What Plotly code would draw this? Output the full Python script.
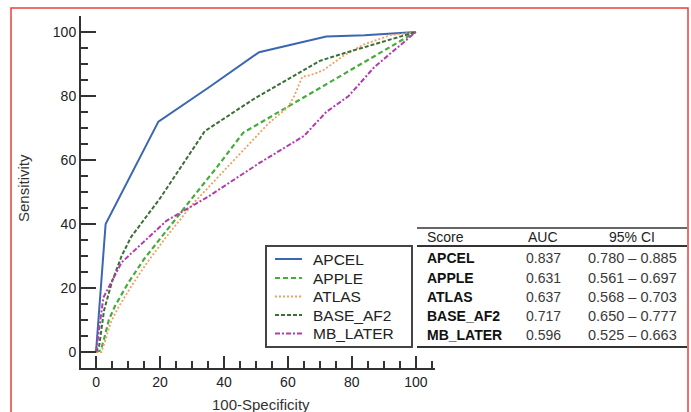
import plotly.graph_objects as go

# ---------------- data ----------------
series_names = ["APCEL", "APPLE", "ATLAS", "BASE_AF2", "MB_LATER"]

apcel_x = [0, 3, 19.5, 35, 51, 72, 84, 100]
apcel_y = [0, 40, 72, 82.5, 93.7, 98.6, 99, 100]

apple_x = [0, 1.5, 2.5, 4, 6, 10, 15, 22, 30, 38, 46, 100]
apple_y = [0, 0.5, 4, 10, 14.5, 21.5, 29, 38, 48, 58, 68.5, 100]

atlas_x = [0, 1.7, 3, 4.5, 7, 11, 16, 22, 30, 40, 48, 54, 60, 62, 64.5, 67, 71, 77, 83.5, 92, 100]
atlas_y = [0, 0, 4, 9, 14, 20.5, 28, 36, 46, 56.5, 65, 71.5, 76.5, 80, 86, 86.5, 88, 92.3, 96, 99, 100]

base_x = [0, 1, 2.5, 5, 8, 11, 20, 34, 50, 70, 78, 100]
base_y = [0, 2, 13, 22, 30, 36, 48, 69, 79.5, 91, 93.5, 100]

mb_x = [0, 1, 2.3, 8, 22, 35, 51, 65, 72, 79, 87, 100]
mb_y = [0, 8, 17, 28, 41, 48.5, 59, 67.5, 75, 80, 89, 100]

table_header = ["Score", "AUC", "95% CI"]
auc_values = ["0.837", "0.631", "0.637", "0.717", "0.596"]
ci_values = ["0.780 \u2013 0.885", "0.561 \u2013 0.697", "0.568 \u2013 0.703",
             "0.650 \u2013 0.777", "0.525 \u2013 0.663"]

x_ticks = [0, 20, 40, 60, 80, 100]
y_ticks = [0, 20, 40, 60, 80, 100]

# ---------------- layout helpers ----------------
W, H = 691, 412
L, R, T, B = 81, 435, 16, 368  # plot area in pixels


def px(x):
    return (x - L) / (R - L)


def py(y):
    return (B - y) / (B - T)


FONT = "Liberation Sans, Arial, Helvetica, sans-serif"
colors = ["#3b67b0", "#45ad3a", "#f0a060", "#3a7034", "#b23cae"]
dashes = ["solid", "5px,3px", "2px,2px", "4px,2px", "5px,2px,2px,2px"]
widths = [2, 2.2, 1.8, 2, 2]
xs = [apcel_x, apple_x, atlas_x, base_x, mb_x]
ys = [apcel_y, apple_y, atlas_y, base_y, mb_y]

fig = go.Figure()
for name, x, y, c, d, w in zip(series_names, xs, ys, colors, dashes, widths):
    fig.add_trace(go.Scatter(x=x, y=y, mode="lines", name=name,
                             line=dict(color=c, dash=d, width=w)))

axis_common = dict(showgrid=False, zeroline=False, showline=True,
                   linecolor="#333333", linewidth=2, ticks="inside",
                   tickcolor="#333333", tickwidth=1.5,
                   tickfont=dict(family=FONT, size=14, color="#222222"),
                   tickmode="array")

fig.update_xaxes(range=[-4.7, 106], tickvals=x_ticks, ticklen=12,
                 minor=dict(dtick=5, ticks="inside", ticklen=7, tickcolor="#333333", showgrid=False),
                 **axis_common)
fig.update_yaxes(range=[-5, 105], tickvals=y_ticks, ticklen=15,
                 minor=dict(dtick=5, ticks="inside", ticklen=7, tickcolor="#333333", showgrid=False),
                 **axis_common)

annotations = []
shapes = []

# axis titles
annotations.append(dict(x=px(23), y=py(188), xref="paper", yref="paper",
                        text="Sensitivity", textangle=-90, showarrow=False,
                        font=dict(family=FONT, size=15, color="#333333"),
                        xanchor="center", yanchor="middle"))
annotations.append(dict(x=px(261), y=py(404), xref="paper", yref="paper",
                        text="100-Specificity", showarrow=False,
                        font=dict(family=FONT, size=15, color="#333333"),
                        xanchor="center", yanchor="middle"))

# legend (drawn as box + samples + texts)
leg_rows = [259, 278, 296.5, 315, 333.5]
shapes.append(dict(type="rect", xref="paper", yref="paper",
                   x0=px(266), x1=px(412), y0=py(347), y1=py(246),
                   line=dict(color="#444444", width=2), fillcolor="white", layer="above"))
for name, c, d, w, ry in zip(series_names, colors, dashes, widths, leg_rows):
    shapes.append(dict(type="line", xref="paper", yref="paper",
                       x0=px(275), x1=px(302), y0=py(ry), y1=py(ry),
                       line=dict(color=c, dash=d, width=w), layer="above"))
    annotations.append(dict(x=px(311), y=py(ry), xref="paper", yref="paper",
                            text=name, showarrow=False, xanchor="left", yanchor="middle",
                            font=dict(family=FONT, size=15.5, color="#222222")))

# table
col_score, col_auc, col_ci = 425, 543, 632
header_y = 237
row_ys = [258, 277.5, 296.5, 315.5, 335]
annotations.append(dict(x=px(col_score), y=py(header_y), xref="paper", yref="paper",
                        text=table_header[0], showarrow=False, xanchor="left", yanchor="middle",
                        font=dict(family=FONT, size=14, color="#222222")))
annotations.append(dict(x=px(col_auc), y=py(header_y), xref="paper", yref="paper",
                        text=table_header[1], showarrow=False, xanchor="center", yanchor="middle",
                        font=dict(family=FONT, size=14, color="#222222")))
annotations.append(dict(x=px(col_ci), y=py(header_y), xref="paper", yref="paper",
                        text=table_header[2], showarrow=False, xanchor="center", yanchor="middle",
                        font=dict(family=FONT, size=14, color="#222222")))
for name, auc, ci, ry in zip(series_names, auc_values, ci_values, row_ys):
    annotations.append(dict(x=px(col_score), y=py(ry), xref="paper", yref="paper",
                            text="<b>" + name + "</b>", showarrow=False, xanchor="left",
                            yanchor="middle", font=dict(family=FONT, size=14, color="#111111")))
    annotations.append(dict(x=px(col_auc), y=py(ry), xref="paper", yref="paper",
                            text=auc, showarrow=False, xanchor="center",
                            yanchor="middle", font=dict(family=FONT, size=14, color="#3a3a3a")))
    annotations.append(dict(x=px(col_ci), y=py(ry), xref="paper", yref="paper",
                            text=ci, showarrow=False, xanchor="center",
                            yanchor="middle", font=dict(family=FONT, size=14.5, color="#3a3a3a")))

for ly, lw in [(228, 1.5), (246, 2), (347, 2)]:
    shapes.append(dict(type="line", xref="paper", yref="paper",
                       x0=px(417), x1=px(687), y0=py(ly), y1=py(ly),
                       line=dict(color="#333333", width=lw)))

# red frame
shapes.append(dict(type="rect", xref="paper", yref="paper",
                   x0=px(11), x1=px(688), y0=py(430), y1=py(8),
                   line=dict(color="#e8403a", width=1.5)))

fig.update_layout(
    width=W, height=H,
    margin=dict(l=L, r=W - R, t=T, b=H - B),
    paper_bgcolor="white", plot_bgcolor="white",
    font=dict(family=FONT, size=13, color="#333333"),
    showlegend=False,
    annotations=annotations,
    shapes=shapes,
)

fig.write_html("out.html", config={"displayModeBar": False},
               post_script="document.body.style.margin='0px';document.body.style.overflow='hidden';")
